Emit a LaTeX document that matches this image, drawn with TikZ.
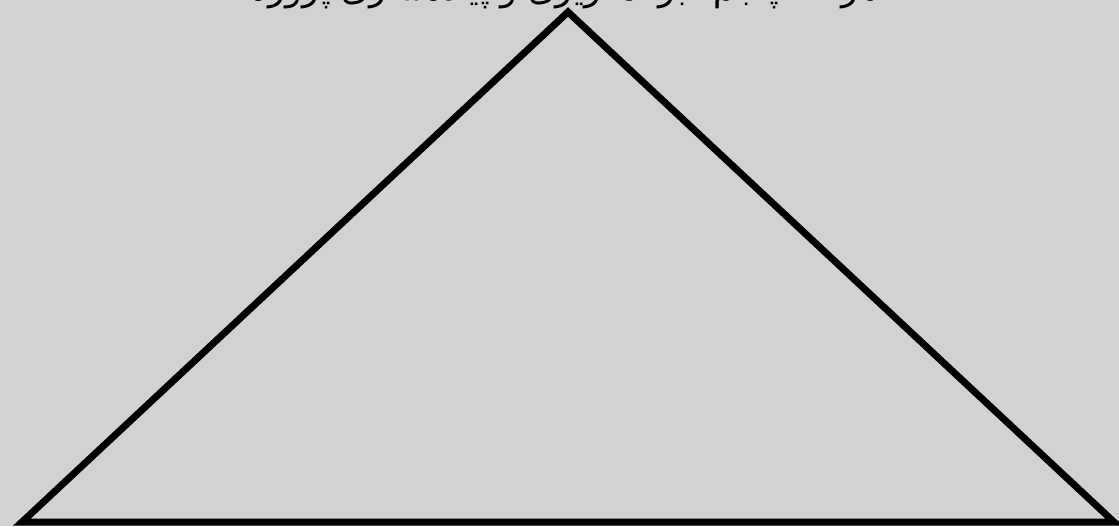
\documentclass[tikz,border=0pt]{standalone}
\usepackage{fontspec}
\newfontfamily\arabicfont[Script=Arabic]{DejaVu Sans}
\TeXXeTstate=1
\definecolor{bg}{HTML}{D1D2D4}
\begin{document}
\begin{tikzpicture}[x=0.75pt,y=-0.75pt,
  tri/.style={draw=black,line width=5.25pt,line join=miter},
  title/.style={inner sep=0pt,anchor=base,font=\arabicfont\fontsize{26}{30}\selectfont}]
\fill[bg] (0,0) rectangle (1119,526);
\useasboundingbox (0,0) rectangle (1119,526);
\begin{scope}
\clip (0,0) rectangle (1119,526);
\coordinate (L) at (22,522);
\coordinate (T) at (568,12);
\coordinate (R) at (1114,522);
\draw[tri] (L) -- (T) -- (R) -- cycle;
\node[title] (t) at (565,0) {\beginR مرحله پنجم: برنامه‌ریزی و پیاده‌سازی پروژه\endR};
\end{scope}
\end{tikzpicture}
\end{document}
